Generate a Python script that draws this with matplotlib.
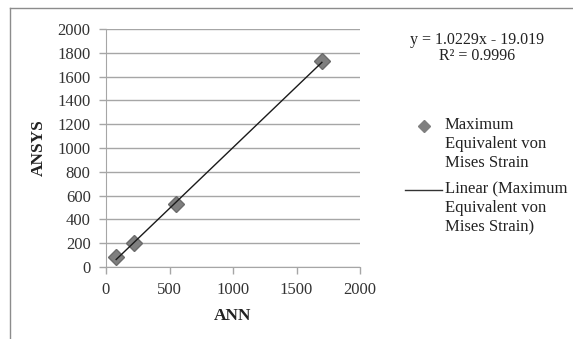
import numpy as np
import matplotlib
matplotlib.use('Agg')
import matplotlib.pyplot as plt
from matplotlib.lines import Line2D

# ── Data ──────────────────────────────────────────────────────────────────────
ann = [80, 220, 550, 1700]
ansys = [85, 205, 530, 1733]
slope = 1.0229
intercept = -19.019
r2 = 0.9996

x_ticks = [0, 500, 1000, 1500, 2000]
y_ticks = [0, 200, 400, 600, 800, 1000, 1200, 1400, 1600, 1800, 2000]

series_label = "Maximum\nEquivalent von\nMises Strain"
trend_label = "Linear (Maximum\nEquivalent von\nMises Strain)"

# ── Figure ────────────────────────────────────────────────────────────────────
W, H = 573, 339
plt.rcParams['font.family'] = ['Liberation Serif', 'DejaVu Serif']
fig = plt.figure(figsize=(W / 100, H / 100), dpi=100)


def px(x, y):
    return x / W, 1 - y / H


left, top = px(106, 29)
right, bottom = px(360, 267)
ax = fig.add_axes([left, bottom, right - left, top - bottom])

grid_c = '#a6a6a6'
ax.set_xlim(0, 2000)
ax.set_ylim(0, 2000)
ax.set_xticks(x_ticks)
ax.set_yticks(y_ticks)
ax.yaxis.grid(True, color=grid_c, linewidth=1)
ax.set_axisbelow(True)
for s in ['top', 'right']:
    ax.spines[s].set_visible(False)
for s in ['left', 'bottom']:
    ax.spines[s].set_color(grid_c)
ax.tick_params(axis='both', colors=grid_c, length=5, width=1,
               labelcolor='#333333', labelsize=12, pad=6)

ax.plot(ann, ansys, linestyle='none', marker='D', markersize=8.5,
        color='#7f7f7f', markeredgecolor='#6b6b6b', zorder=3)
xs = np.array([min(ann), max(ann)])
ax.plot(xs, slope * xs + intercept, color='#1a1a1a', linewidth=1, zorder=4)

ax.set_xlabel('ANN', fontsize=12.5, fontweight='bold', color='#222222', labelpad=7)
ax.set_ylabel('ANSYS', fontsize=12.5, fontweight='bold', color='#222222', labelpad=8)

# trendline equation
fig.text(*px(477, 40), f"y = {slope}x - {abs(intercept)}", fontsize=11.5,
         ha='center', va='center', color='#222222')
fig.text(*px(477, 56), f"R² = {r2}", fontsize=11.5,
         ha='center', va='center', color='#222222')

# legend drawn by hand so the marker sits on the first line
fig.add_artist(Line2D([px(424, 0)[0]], [px(0, 126)[1]], marker='D', markersize=6,
                      color='#7f7f7f', transform=fig.transFigure))
fig.text(*px(445, 117), series_label, fontsize=12, ha='left', va='top',
         color='#222222', linespacing=1.25, transform=fig.transFigure)
fig.add_artist(Line2D([px(405, 0)[0], px(442, 0)[0]], [px(0, 190)[1]] * 2,
                      color='#333333', linewidth=1, transform=fig.transFigure))
fig.text(*px(445, 181), trend_label, fontsize=12, ha='left', va='top',
         color='#222222', linespacing=1.25, transform=fig.transFigure)

# chart frame (left and top edge visible)
fig.add_artist(Line2D([px(10, 0)[0]] * 2, [px(0, 8)[1], 0], color='#8c8c8c',
                      linewidth=1, transform=fig.transFigure))
fig.add_artist(Line2D([px(10, 0)[0], 1], [px(0, 8)[1]] * 2, color='#8c8c8c',
                      linewidth=1, transform=fig.transFigure))

fig.savefig('out.png', dpi=100, facecolor='white')
